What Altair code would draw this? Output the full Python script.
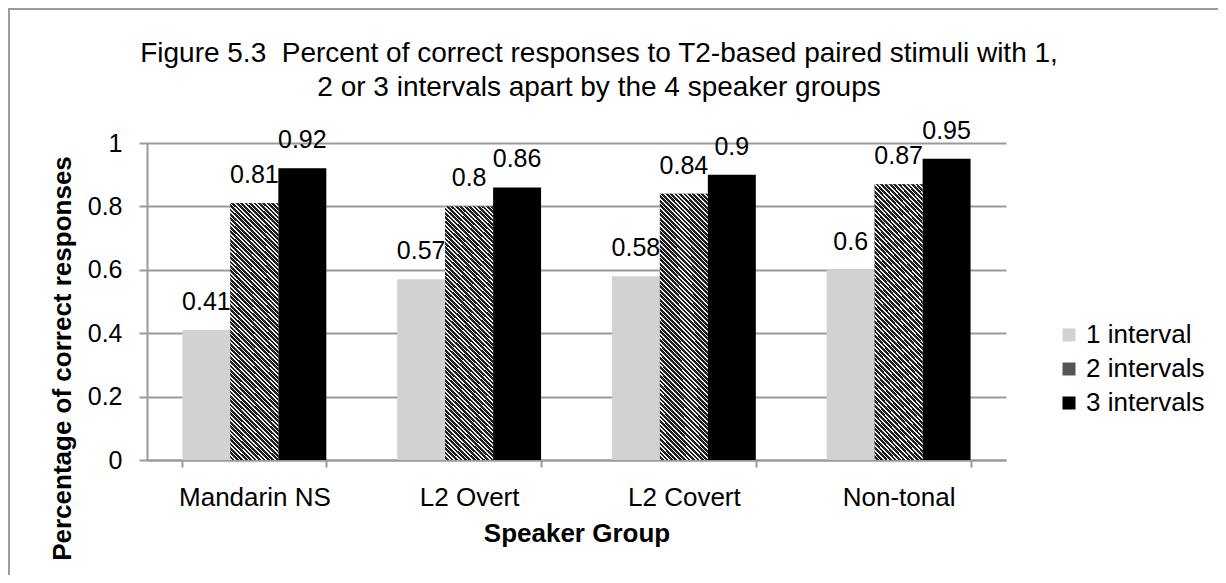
import altair as alt
import pandas as pd

groups = ["Mandarin NS", "L2 Overt", "L2 Covert", "Non-tonal"]
series = ["1 interval", "2 intervals", "3 intervals"]
one_interval = [0.41, 0.57, 0.58, 0.60]
two_intervals = [0.81, 0.80, 0.84, 0.87]
three_intervals = [0.92, 0.86, 0.90, 0.95]
y_ticks = [0, 0.2, 0.4, 0.6, 0.8, 1.0]
title_lines = [
    "Figure 5.3 \u00a0Percent of correct responses to T2-based paired stimuli with 1,",
    "2 or 3 intervals apart by the 4 speaker groups",
]

rows = []
for i, g in enumerate(groups):
    for s, vals in zip(series, [one_interval, two_intervals, three_intervals]):
        rows.append({"group": g, "series": s, "value": vals[i]})
df = pd.DataFrame(rows)

FONT = "Liberation Sans"
GRID = "#9a9a9a"

# diagonal hatch as a striped linear gradient (styling only)
N = 70
stops = []
for i in range(N):
    a = i / N
    b = (i + 0.38) / N
    c = (i + 1) / N
    stops += [
        {"offset": a, "color": "#eeeeee"},
        {"offset": b, "color": "#eeeeee"},
        {"offset": b, "color": "#1e1e1e"},
        {"offset": c, "color": "#1e1e1e"},
    ]
hatch = {"gradient": "linear", "x1": 0, "y1": 1, "x2": 0.209, "y2": -0.144, "stops": stops}

x_enc = alt.X(
    "group:N",
    sort=groups,
    scale=alt.Scale(paddingInner=0.33, paddingOuter=0.165),
    axis=alt.Axis(
        title="Speaker Group",
        labelAngle=0,
        tickBand="extent",
        tickSize=7,
        labelPadding=17,
        labelFontSize=26,
        titleFontSize=26,
        titleFontWeight="bold",
        titleX=429.5,
        titleY=73,
        titleBaseline="middle",
        titleAlign="center",
    ),
)
xo_enc = alt.XOffset("series:N", sort=series)
y_enc = alt.Y(
    "value:Q",
    scale=alt.Scale(domain=[0, 1], nice=False),
    axis=alt.Axis(
        title="Percentage of correct responses",
        values=y_ticks,
        format="~g",
        tickSize=8,
        labelPadding=17,
        labelFontSize=25,
        titleFontSize=26,
        titleFontWeight="bold",
        titleX=-85,
        titleY=215,
        titleBaseline="middle",
        titleAlign="center",
        titleAngle=270,
        grid=True,
    ),
)

base = alt.Chart(df)

bars = base.mark_bar().encode(
    x=x_enc,
    xOffset=xo_enc,
    y=y_enc,
    color=alt.Color(
        "series:N",
        sort=series,
        scale=alt.Scale(domain=series, range=["#d2d2d2", "#555555", "#000000"]),
        legend=alt.Legend(
            title=None,
            orient="none",
            legendX=909,
            legendY=179,
            symbolType="square",
            symbolSize=169,
            symbolStrokeWidth=0,
            labelFontSize=26,
            labelOffset=4,
            rowPadding=8,
            padding=0,
        ),
    ),
)

hatched = base.transform_filter(alt.datum.series == "2 intervals").mark_bar(fill=hatch).encode(
    x=alt.X("group:N", sort=groups),
    xOffset=xo_enc,
    y="value:Q",
)

labels = base.mark_text(fontSize=25, dy=-20, baseline="alphabetic", color="black").encode(
    x=alt.X("group:N", sort=groups),
    xOffset=xo_enc,
    y="value:Q",
    text=alt.Text("value:Q", format="~g"),
)

frame = alt.Chart(alt.InlineData(values=[{"k": 1}])).mark_rect(
    fill="transparent", stroke="#9c9c9c", strokeWidth=2
).encode(
    x=alt.value(-138), x2=alt.value(1080), y=alt.value(-134), y2=alt.value(440)
)

title = alt.Chart(alt.InlineData(values=[{"k": 1}])).mark_text(
    fontSize=28, lineHeight=34, baseline="alphabetic", align="center", color="black", font=FONT
).encode(
    x=alt.value(452), y=alt.value(-81), text=alt.value(title_lines)
)

chart = alt.layer(bars, hatched, labels, frame, title).properties(
    width=859,
    height=317,
    padding={"left": 139, "top": 135, "right": 212, "bottom": 115},
    autosize=alt.AutoSizeParams(type="none"),
).configure_view(stroke=None).configure_axis(
    labelFont=FONT,
    titleFont=FONT,
    labelColor="black",
    titleColor="black",
    domainColor=GRID,
    domainWidth=2,
    tickColor=GRID,
    tickWidth=2,
    gridColor=GRID,
    gridWidth=2,
).configure_axisX(grid=False).configure_legend(labelFont=FONT, labelColor="black").configure_text(font=FONT)

chart.save("out.html", embed_options={"renderer": "svg", "actions": False})
